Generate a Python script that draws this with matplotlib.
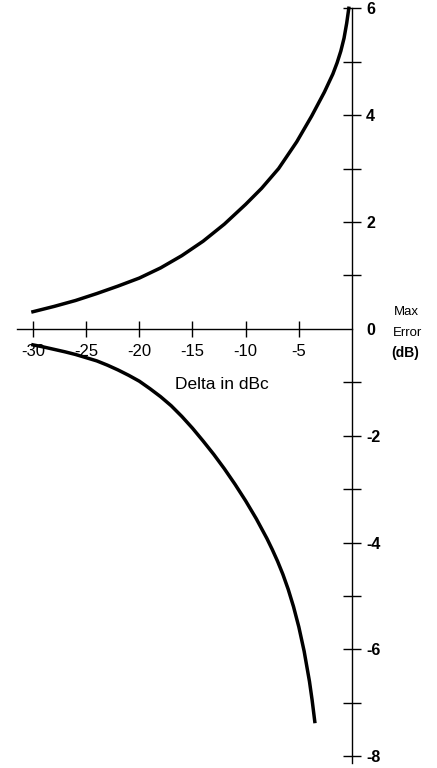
import matplotlib
matplotlib.use("Agg")
import matplotlib.pyplot as plt

plt.rcParams['font.family'] = ['Liberation Sans', 'DejaVu Sans']
plt.rcParams['axes.unicode_minus'] = False

# values
delta_upper = [-30, -28, -26, -24, -22, -20, -18, -16, -14, -12, -10, -8.5, -6.9,
               -5.2, -3.8, -2.6, -1.8, -1.4, -1.05, -0.75, -0.5, -0.3]
err_upper = [0.32, 0.42, 0.53, 0.66, 0.80, 0.95, 1.14, 1.37, 1.64, 1.96, 2.33, 2.63, 3.0,
             3.5, 3.98, 4.43, 4.77, 4.98, 5.2, 5.44, 5.72, 6.0]

delta_lower = [-30, -29, -28, -27, -26, -25, -24, -23, -22, -21, -20, -19, -18, -17, -16,
               -15, -14, -13, -12, -11, -10, -9, -8, -7.5, -7, -6.5, -6, -5.5, -5,
               -4.5, -4, -3.75, -3.5]
err_lower = [-0.30, -0.34, -0.385, -0.43, -0.48, -0.54, -0.60, -0.68, -0.77, -0.87, -0.98,
             -1.12, -1.27, -1.44, -1.64, -1.86, -2.10, -2.35, -2.62, -2.91, -3.22, -3.555,
             -3.925, -4.13, -4.35, -4.595, -4.875, -5.20, -5.58, -6.035, -6.60, -6.95,
             -7.35]

x_ticks = [-30, -25, -20, -15, -10, -5]
y_ticks = [-8, -6, -4, -2, 0, 2, 4, 6]
y_minor = [-7, -5, -3, -1, 1, 3, 5]

fig = plt.figure(figsize=(4.37, 7.68), dpi=100)
ax = fig.add_axes([0.0389, 0.0049, 0.7666, 0.9878])
ax.patch.set_visible(False)

ax.plot(delta_upper, err_upper, color='black', lw=2.5, clip_on=False,
        solid_joinstyle='round')
ax.plot(delta_lower, err_lower, color='black', lw=2.5, clip_on=False,
        solid_joinstyle='round')

ax.set_xlim(-31.5, 0)
ax.set_ylim(-8.15, 6.05)

ax.spines['left'].set_visible(False)
ax.spines['top'].set_visible(False)
ax.spines['bottom'].set_position(('data', 0))
ax.spines['right'].set_bounds(-8.13, 6)
ax.spines['bottom'].set_linewidth(1.0)
ax.spines['right'].set_linewidth(1.0)

ax.yaxis.tick_right()
ax.set_yticks(y_ticks)
ax.set_yticklabels([str(t) for t in y_ticks])
ax.set_yticks(y_minor, minor=True)
ax.tick_params(axis='y', which='both', direction='inout', length=13.5, width=1, pad=3.5, labelsize=11.5)
for lbl in ax.get_yticklabels():
    lbl.set_fontweight('bold')
# no tick mark at 0, only the label
ax.yaxis.get_major_ticks()[4].tick2line.set_visible(False)

ax.set_xticks(x_ticks)
ax.set_xticklabels([str(t) for t in x_ticks])
ax.tick_params(axis='x', direction='inout', length=11, width=1, pad=5.5, labelsize=12)

ax.text(-12.2, -1.05, 'Delta in dBc', ha='center', va='center', fontsize=12.5)
ax.text(5.08, 0.31, 'Max', ha='center', va='center', fontsize=9.5, clip_on=False)
ax.text(5.18, -0.08, 'Error', ha='center', va='center', fontsize=9.5, clip_on=False)
ax.text(5.04, -0.45, '(dB)', ha='center', va='center', fontsize=10, fontweight='bold', clip_on=False)

fig.savefig('out.png', dpi=100)
